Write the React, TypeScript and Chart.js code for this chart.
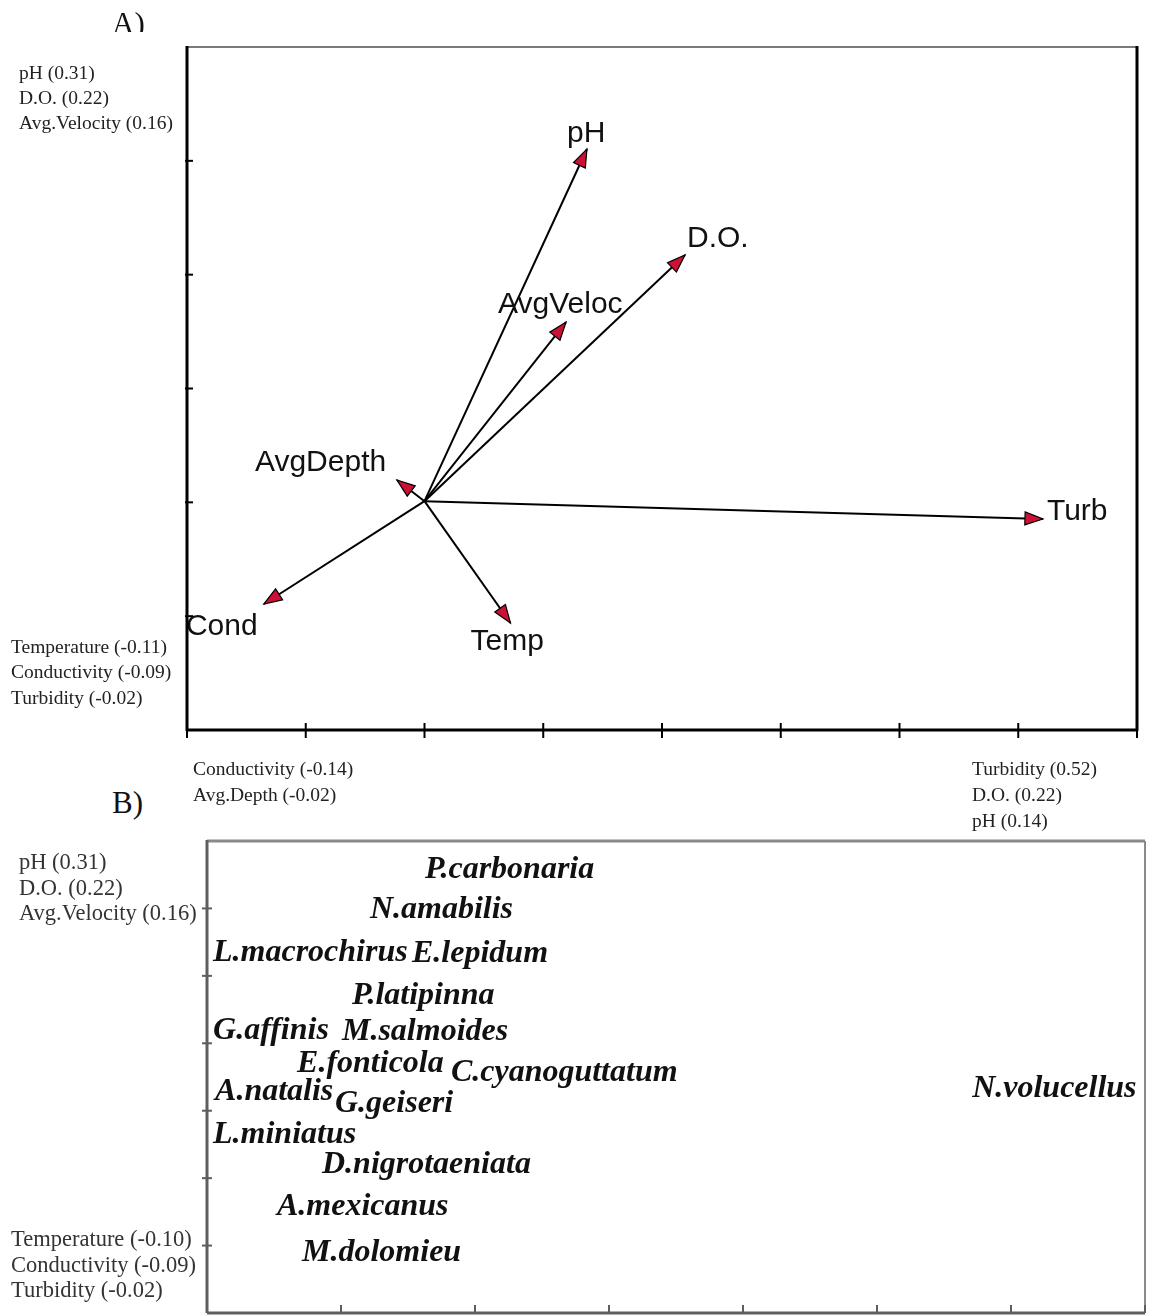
import React, { useEffect, useRef } from "react";
import { Chart, registerables } from "chart.js";

Chart.register(...registerables);

// ---------- Panel A data (biplot of environmental variables, axis tick units) ----------
const ENV_VARS = ["pH", "D.O.", "AvgVeloc", "AvgDepth", "Turb", "Cond", "Temp"];
const ENV_X = [3.368, 4.194, 3.192, 1.768, 7.208, 0.648, 2.724];
const ENV_Y = [5.104, 4.173, 3.584, 2.196, 1.854, 1.107, 0.94];
const ORIGIN = [2.0, 2.01];
const A_X_TICKS = [0, 1, 2, 3, 4, 5, 6, 7, 8];
const A_Y_TICKS = [1, 2, 3, 4, 5];

// ---------- Panel B data (species scores, axis tick units) ----------
const SPECIES = [
  "P.carbonaria", "N.amabilis", "L.macrochirus", "E.lepidum", "P.latipinna",
  "G.affinis", "M.salmoides", "E.fonticola", "C.cyanoguttatum", "A.natalis",
  "G.geiseri", "L.miniatus", "D.nigrotaeniata", "A.mexicanus", "M.dolomieu", "N.volucellus",
];
const SPECIES_X = [1.627, 1.216, 0.045, 1.53, 1.082, 0.045, 1.007, 0.672, 1.82, 0.06, 0.955, 0.045, 0.858, 0.522, 0.709, 5.71];
const SPECIES_Y = [6.6, 6.01, 5.37, 5.36, 4.73, 4.21, 4.2, 3.72, 3.59, 3.31, 3.13, 2.67, 2.23, 1.6, 0.93, 3.35];
const B_X_TICKS = [0, 1, 2, 3, 4, 5, 6, 7];
const B_Y_TICKS = [1, 2, 3, 4, 5, 6];

// ---------- Axis annotation texts ----------
const A_LEFT_TOP = ["pH (0.31)", "D.O. (0.22)", "Avg.Velocity (0.16)"];
const A_LEFT_BOTTOM = ["Temperature (-0.11)", "Conductivity (-0.09)", "Turbidity (-0.02)"];
const A_BOTTOM_LEFT = ["Conductivity (-0.14)", "Avg.Depth (-0.02)"];
const A_BOTTOM_RIGHT = ["Turbidity (0.52)", "D.O. (0.22)", "pH (0.14)"];
const B_LEFT_TOP = ["pH (0.31)", "D.O. (0.22)", "Avg.Velocity (0.16)"];
const B_LEFT_BOTTOM = ["Temperature (-0.10)", "Conductivity (-0.09)", "Turbidity (-0.02)"];

// label offsets (pixels, relative to arrow tip) – styling only
const ENV_LABEL_OFFSET: [number, number][] = [
  [-20, -7], [2, -8], [-68, -9], [-142, -9], [4, 1], [-78, 31], [-40, 27],
];

const serif = "'Liberation Serif', 'Times New Roman', serif";
const sans = "'Liberation Sans', Arial, sans-serif";

function line(ctx: CanvasRenderingContext2D, x1: number, y1: number, x2: number, y2: number) {
  ctx.beginPath();
  ctx.moveTo(x1, y1);
  ctx.lineTo(x2, y2);
  ctx.stroke();
}

const frameA = {
  id: "frameA",
  afterDraw(chart: any) {
    const { ctx, chartArea } = chart;
    const { left, right, top, bottom } = chartArea;
    const xs = chart.scales.x;
    const ys = chart.scales.y;
    ctx.save();
    ctx.lineCap = "butt";
    ctx.strokeStyle = "#7a7a7a";
    ctx.lineWidth = 2;
    line(ctx, left, top, right, top);
    ctx.strokeStyle = "#000";
    ctx.lineWidth = 3;
    line(ctx, left, top - 1, left, bottom + 1);
    line(ctx, right, top - 1, right, bottom + 1);
    line(ctx, left - 1, bottom, right + 1, bottom);
    ctx.lineWidth = 2;
    A_X_TICKS.forEach((v) => {
      const px = xs.getPixelForValue(v);
      line(ctx, px, bottom - 7, px, bottom + 8);
    });
    A_Y_TICKS.forEach((v) => {
      const py = ys.getPixelForValue(v);
      line(ctx, left - 2, py, left + 6, py);
    });
    ctx.restore();
  },
};

const arrowPlugin = {
  id: "arrows",
  afterDatasetsDraw(chart: any) {
    const { ctx } = chart;
    const xs = chart.scales.x;
    const ys = chart.scales.y;
    const ox = xs.getPixelForValue(ORIGIN[0]);
    const oy = ys.getPixelForValue(ORIGIN[1]);
    ctx.save();
    ENV_VARS.forEach((name, i) => {
      const tx = xs.getPixelForValue(ENV_X[i]);
      const ty = ys.getPixelForValue(ENV_Y[i]);
      const ang = Math.atan2(ty - oy, tx - ox);
      const L = 18;
      const W = 6.5;
      const bx = tx - L * Math.cos(ang);
      const by = ty - L * Math.sin(ang);
      const nx = -Math.sin(ang);
      const ny = Math.cos(ang);
      ctx.beginPath();
      ctx.moveTo(tx, ty);
      ctx.lineTo(bx + nx * W, by + ny * W);
      ctx.lineTo(bx - nx * W, by - ny * W);
      ctx.closePath();
      ctx.fillStyle = "#cc1136";
      ctx.fill();
      ctx.strokeStyle = "#000";
      ctx.lineWidth = 1.2;
      ctx.stroke();
      const [dx, dy] = ENV_LABEL_OFFSET[i];
      ctx.fillStyle = "#111";
      ctx.font = `30px ${sans}`;
      ctx.textAlign = "left";
      ctx.textBaseline = "alphabetic";
      ctx.fillText(name, tx + dx, ty + dy);
    });
    ctx.restore();
  },
};

const frameB = {
  id: "frameB",
  afterDraw(chart: any) {
    const { ctx, chartArea } = chart;
    const { left, right, top, bottom } = chartArea;
    const xs = chart.scales.x;
    const ys = chart.scales.y;
    ctx.save();
    ctx.strokeStyle = "#8a8a8a";
    ctx.lineWidth = 3;
    line(ctx, left, top, right, top);
    ctx.lineWidth = 2;
    line(ctx, right, top, right, bottom);
    ctx.strokeStyle = "#5e5e5e";
    ctx.lineWidth = 3;
    line(ctx, left, top - 1, left, bottom);
    line(ctx, left, bottom, right, bottom);
    ctx.lineWidth = 2;
    B_Y_TICKS.forEach((v) => {
      const py = ys.getPixelForValue(v);
      line(ctx, left - 5, py, left + 5, py);
    });
    B_X_TICKS.forEach((v) => {
      const px = xs.getPixelForValue(v);
      line(ctx, px, bottom - 8, px, bottom);
    });
    ctx.restore();
  },
};

const speciesPlugin = {
  id: "species",
  afterDatasetsDraw(chart: any) {
    const { ctx } = chart;
    const xs = chart.scales.x;
    const ys = chart.scales.y;
    ctx.save();
    ctx.fillStyle = "#111";
    ctx.font = `italic bold 32px ${serif}`;
    ctx.textAlign = "left";
    ctx.textBaseline = "middle";
    SPECIES.forEach((name, i) => {
      ctx.fillText(name, xs.getPixelForValue(SPECIES_X[i]), ys.getPixelForValue(SPECIES_Y[i]) + 2);
    });
    ctx.restore();
  },
};

function PanelA() {
  const ref = useRef<HTMLCanvasElement>(null);
  useEffect(() => {
    const datasets = ENV_VARS.map((name, i) => ({
      label: name,
      data: [
        { x: ORIGIN[0], y: ORIGIN[1] },
        { x: ENV_X[i], y: ENV_Y[i] },
      ],
      showLine: true,
      borderColor: "#000",
      borderWidth: 2,
      pointRadius: 0,
      fill: false,
    }));
    const chart = new Chart(ref.current as HTMLCanvasElement, {
      type: "scatter",
      data: { datasets },
      options: {
        animation: false,
        responsive: false,
        events: [],
        layout: { padding: { left: 187, right: 12, top: 47, bottom: 30 } },
        plugins: { legend: { display: false }, tooltip: { enabled: false } },
        scales: {
          x: { type: "linear", min: 0, max: 8, display: false },
          y: { type: "linear", min: 0, max: 6, display: false },
        },
      },
      plugins: [frameA, arrowPlugin],
    } as any);
    return () => chart.destroy();
  }, []);
  return (
    <canvas ref={ref} width={1149} height={760} style={{ position: "absolute", left: 0, top: 0 }} />
  );
}

function PanelB() {
  const ref = useRef<HTMLCanvasElement>(null);
  useEffect(() => {
    const chart = new Chart(ref.current as HTMLCanvasElement, {
      type: "scatter",
      data: {
        datasets: [
          {
            label: "Species",
            data: SPECIES.map((_, i) => ({ x: SPECIES_X[i], y: SPECIES_Y[i] })),
            pointRadius: 0,
          },
        ],
      },
      options: {
        animation: false,
        responsive: false,
        events: [],
        layout: { padding: { left: 207, right: 4, top: 11, bottom: 2 } },
        plugins: { legend: { display: false }, tooltip: { enabled: false } },
        scales: {
          x: { type: "linear", min: 0, max: 7, display: false },
          y: { type: "linear", min: 0, max: 7, display: false },
        },
      },
      plugins: [frameB, speciesPlugin],
    } as any);
    return () => chart.destroy();
  }, []);
  return (
    <canvas ref={ref} width={1149} height={485} style={{ position: "absolute", left: 0, top: 830 }} />
  );
}

function TextBlock(props: {
  lines: string[];
  left: number;
  top: number;
  size: number;
  lh: number;
  color?: string;
}) {
  return (
    <div
      style={{
        position: "absolute",
        left: props.left,
        top: props.top,
        fontFamily: serif,
        fontSize: props.size,
        lineHeight: `${props.lh}px`,
        color: props.color || "#222",
        whiteSpace: "pre",
      }}
    >
      {props.lines.map((t, i) => (
        <div key={i}>{t}</div>
      ))}
    </div>
  );
}

export default function App() {
  return (
    <div
      style={{
        position: "absolute",
        left: 0,
        top: 0,
        width: 1149,
        height: 1315,
        background: "#fff",
        overflow: "hidden",
      }}
    >
      <PanelA />
      <PanelB />
      <div style={{ position: "absolute", left: 112, top: 0, height: 32, overflow: "hidden" }}>
        <div style={{ fontFamily: serif, fontSize: 31, lineHeight: "31px", color: "#111", marginTop: 8 }}>A)</div>
      </div>
      <div style={{ position: "absolute", left: 112, top: 787, fontFamily: serif, fontSize: 31, lineHeight: "31px", color: "#111" }}>
        B)
      </div>
      <TextBlock lines={A_LEFT_TOP} left={19} top={59.5} size={19.5} lh={25} />
      <TextBlock lines={A_LEFT_BOTTOM} left={11} top={633.5} size={19.5} lh={25.5} />
      <TextBlock lines={A_BOTTOM_LEFT} left={193} top={756} size={19.5} lh={26} />
      <TextBlock lines={A_BOTTOM_RIGHT} left={972} top={756} size={19.5} lh={26} />
      <TextBlock lines={B_LEFT_TOP} left={19} top={849} size={22.5} lh={25.5} color="#333" />
      <TextBlock lines={B_LEFT_BOTTOM} left={11} top={1226} size={22.5} lh={25.5} color="#333" />
    </div>
  );
}
